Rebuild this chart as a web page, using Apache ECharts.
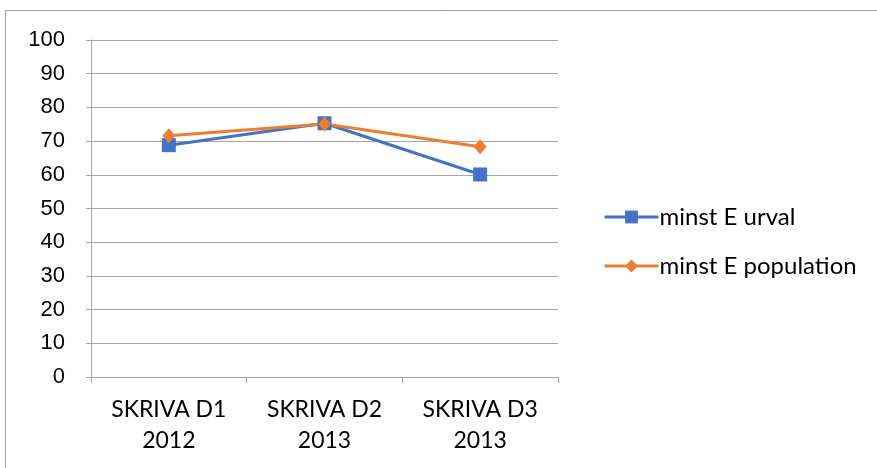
<!DOCTYPE html>
<html><head><meta charset="utf-8">
<script src="https://cdn.jsdelivr.net/npm/echarts@6/dist/echarts.min.js"></script>
<style>html,body{margin:0;padding:0;background:#fff}#c{width:877px;height:468px}</style>
</head><body><div id="c"></div>
<script>
const categories = ['SKRIVA D1\n2012', 'SKRIVA D2\n2013', 'SKRIVA D3\n2013'];
const urval = [68.8, 75.3, 60.1];
const population = [71.6, 75.1, 68.3];
const seriesNames = ['minst E urval', 'minst E population'];

const chart = echarts.init(document.getElementById('c'));
chart.setOption({
  animation: false,
  graphic: [{type: 'rect', shape: {x: 5.5, y: 10.5, width: 900, height: 500}, style: {fill: 'none', stroke: '#a6a6a6', lineWidth: 1}, z: -1}],
  grid: {left: 91, right: 319, top: 40, bottom: 91},
  legend: {
    orient: 'vertical', left: 598, top: 200, itemGap: 25, itemWidth: 54, itemHeight: 16,
    lineStyle: {width: 3},
    textStyle: {fontFamily: 'Lato', fontSize: 24, color: '#000', padding: [0,0,0,-4]},
    data: seriesNames
  },
  xAxis: {
    type: 'category', data: categories, boundaryGap: true,
    axisLine: {lineStyle: {color: '#a6a6a6', width: 1}},
    axisTick: {show: true, alignWithLabel: false, interval: 0, length: 6, lineStyle: {color: '#a6a6a6'}},
    axisLabel: {fontFamily: 'Lato', fontSize: 23, color: '#000', lineHeight: 31, margin: 17, interval: 0}
  },
  yAxis: {
    type: 'value', min: 0, max: 100, interval: 10,
    axisLine: {show: true, lineStyle: {color: '#a6a6a6', width: 1}},
    axisTick: {show: true, length: 5, inside: false, lineStyle: {color: '#a6a6a6'}},
    splitLine: {lineStyle: {color: '#a6a6a6', width: 1}},
    axisLabel: {fontFamily: 'Liberation Sans', fontSize: 22, color: '#000', margin: 26}
  },
  series: [
    {name: seriesNames[0], type: 'line', data: urval, symbol: 'rect', symbolSize: 14,
     lineStyle: {color: '#4472c4', width: 3}, itemStyle: {color: '#4472c4'}},
    {name: seriesNames[1], type: 'line', data: population, symbol: 'diamond', symbolSize: [13, 15],
     lineStyle: {color: '#ed7d31', width: 3}, itemStyle: {color: '#ed7d31'}}
  ]
});
</script></body></html>
